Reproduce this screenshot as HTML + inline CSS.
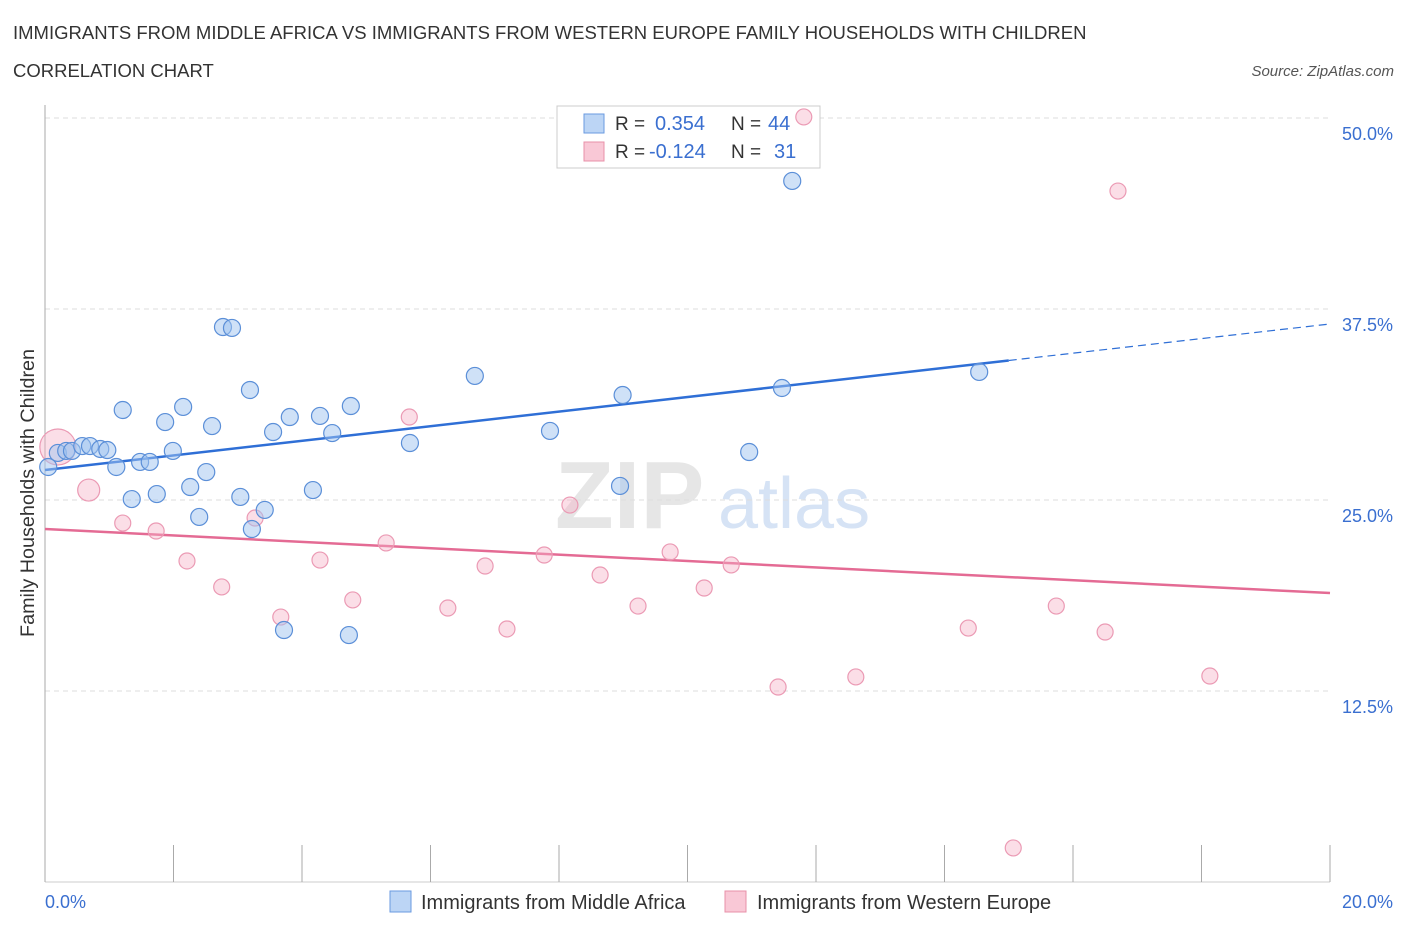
<!DOCTYPE html>
<html><head><meta charset="utf-8"><style>
body{margin:0;background:#fff;font-family:"Liberation Sans",sans-serif;}
svg text{font-family:"Liberation Sans",sans-serif;}
</style></head><body>
<svg id="chart" width="1406" height="930" viewBox="0 0 1406 930" xmlns="http://www.w3.org/2000/svg">
<text x="13" y="39" font-size="18.5" fill="#333">IMMIGRANTS FROM MIDDLE AFRICA VS IMMIGRANTS FROM WESTERN EUROPE FAMILY HOUSEHOLDS WITH CHILDREN</text>
<text x="13" y="77" font-size="18.5" fill="#333">CORRELATION CHART</text>
<text x="1394" y="76" font-size="15" font-style="italic" fill="#555" text-anchor="end">Source: ZipAtlas.com</text>
<g>
<text x="555" y="528" font-size="96" font-family="Liberation Serif" fill="#e6e6e6" font-weight="bold">ZIP</text>
<text x="718" y="528" font-size="72" fill="#d6e3f5">atlas</text>
</g>
<g id="grid"></g>
<g id="axes"></g>
<g id="trends"></g>
<g>
<rect x="557" y="106" width="263" height="62" fill="#fff" stroke="#ccc"/>
<rect x="584" y="114" width="20" height="19" fill="#bcd5f5" stroke="#6a9ae0"/>
<rect x="584" y="142" width="20" height="19" fill="#f9c8d6" stroke="#e890a8"/>
<text x="615" y="130" font-size="19" fill="#333">R =</text>
<text x="655" y="130" font-size="20" fill="#3a6fd0">0.354</text>
<text x="731" y="130" font-size="19" fill="#333">N =</text>
<text x="768" y="130" font-size="20" fill="#3a6fd0">44</text>
<text x="615" y="158" font-size="19" fill="#333">R =</text>
<text x="649" y="158" font-size="20" fill="#3a6fd0">-0.124</text>
<text x="731" y="158" font-size="19" fill="#333">N =</text>
<text x="774" y="158" font-size="20" fill="#3a6fd0">31</text>
</g>
<g id="points"></g>
<text transform="translate(34,493) rotate(-90)" font-size="19.8" fill="#333" text-anchor="middle">Family Households with Children</text>
<g>
<rect x="390" y="891" width="21" height="21" fill="#bcd5f5" stroke="#6a9ae0"/>
<text x="421" y="909" font-size="20" fill="#333">Immigrants from Middle Africa</text>
<rect x="725" y="891" width="21" height="21" fill="#f9c8d6" stroke="#e890a8"/>
<text x="757" y="909" font-size="20" fill="#333">Immigrants from Western Europe</text>
</g>
</svg>
<script>
const yTicks=[12.5,25.0,37.5,50.0];
const yTickLabels=["12.5%","25.0%","37.5%","50.0%"];
const xTickLabels=["0.0%","20.0%"];
const blueX=[0.05,0.20,0.33,0.42,0.58,0.70,0.86,0.97,1.11,1.21,1.35,1.48,1.63,1.74,1.87,1.99,2.15,2.26,2.40,2.51,2.60,2.77,2.91,3.04,3.19,3.22,3.42,3.55,3.72,3.81,4.17,4.28,4.47,4.73,4.76,5.68,6.69,7.86,8.95,8.99,10.96,11.47,11.63,14.54];
const blueY=[27.16,28.08,28.21,28.21,28.53,28.53,28.34,28.27,27.16,30.89,25.06,27.49,27.49,25.39,30.10,28.21,31.09,25.85,23.89,26.83,29.84,36.32,36.26,25.20,32.20,23.10,24.35,29.45,16.49,30.43,25.65,30.50,29.38,16.16,31.15,28.73,33.12,29.52,25.92,31.87,28.14,32.33,45.88,33.38];
const pinkX=[0.20,0.68,1.21,1.73,2.21,2.75,3.27,3.67,4.28,4.79,5.31,5.67,6.27,6.85,7.19,7.77,8.17,8.64,9.23,9.73,10.26,10.68,11.41,11.81,12.62,14.37,15.07,15.74,16.50,16.70,18.13];
const pinkY=[28.47,25.65,23.49,22.97,21.01,19.31,23.82,17.34,21.07,18.46,22.19,30.43,17.93,20.68,16.56,21.40,24.67,20.09,18.06,21.60,19.24,20.75,12.76,50.07,13.42,16.62,2.23,18.06,16.36,45.22,13.48];
const pinkR=[18,11,8,8,8,8,8,8,8,8,8,8,8,8,8,8,8,8,8,8,8,8,8,8,8,8,8,8,8,8,8];
const blueTrend=[26.96,36.52];
const pinkTrend=[23.10,18.91];
const blueSolidEnd=15.0;

const NS="http://www.w3.org/2000/svg";
const X0=45,X1=1330,Y0=882,Y50=118;
function sx(v){return X0+(v/20)*(X1-X0);}
function sy(v){return Y0-(v/50)*(Y0-Y50);}
function mk(tag,attrs,parent){const e=document.createElementNS(NS,tag);for(const k in attrs)e.setAttribute(k,attrs[k]);parent.appendChild(e);return e;}
const grid=document.getElementById('grid'),axes=document.getElementById('axes'),trends=document.getElementById('trends'),pts=document.getElementById('points');
yTicks.forEach((t,i)=>{
  const l=mk('line',{x1:X0,x2:X1,y1:sy(t),y2:sy(t),stroke:'#ddd','stroke-dasharray':'5,4'},grid);
  
  
  const tx=mk('text',{x:1393,y:sy(t)+22,'font-size':18,fill:'#3a6fd0','text-anchor':'end'},grid);
  tx.textContent=yTickLabels[i];
  
  
});
let a=mk('line',{x1:X0,x2:X0,y1:105,y2:Y0,stroke:'#aaa'},axes);


a=mk('line',{x1:X0,x2:X1,y1:Y0,y2:Y0,stroke:'#ccc'},axes);


for(let i=0;i<=10;i++){
  const t=mk('line',{x1:sx(i*2),x2:sx(i*2),y1:Y0-37,y2:Y0,stroke:'#aaa'},axes);
  
  
}
[[0,'start',45],[20,'end',1393]].forEach((d,i)=>{
  const t=mk('text',{x:d[2],y:908,'font-size':18,fill:'#3a6fd0','text-anchor':d[1]},axes);
  t.textContent=xTickLabels[i];
  
  
});
function tv(tr,x){return tr[0]+(tr[1]-tr[0])*x/20;}
let tl=mk('line',{x1:sx(0),y1:sy(tv(blueTrend,0)),x2:sx(blueSolidEnd),y2:sy(tv(blueTrend,blueSolidEnd)),stroke:'#2f6fd6','stroke-width':2.5},trends);


tl=mk('line',{x1:sx(blueSolidEnd),y1:sy(tv(blueTrend,blueSolidEnd)),x2:sx(20),y2:sy(tv(blueTrend,20)),stroke:'#2f6fd6','stroke-width':1.2,'stroke-dasharray':'8,5'},trends);


tl=mk('line',{x1:sx(0),y1:sy(tv(pinkTrend,0)),x2:sx(20),y2:sy(tv(pinkTrend,20)),stroke:'#e46b94','stroke-width':2.5},trends);


pinkX.forEach((x,i)=>{
  const c=mk('circle',{cx:sx(x),cy:sy(pinkY[i]),r:pinkR[i],fill:'rgba(246,176,198,0.42)',stroke:'#eb9ab4','stroke-width':1.2},pts);
  
  
});
blueX.forEach((x,i)=>{
  const c=mk('circle',{cx:sx(x),cy:sy(blueY[i]),r:8.5,fill:'rgba(160,196,240,0.5)',stroke:'#5b8fd8','stroke-width':1.2},pts);
  
  
});
</script>
</body></html>
